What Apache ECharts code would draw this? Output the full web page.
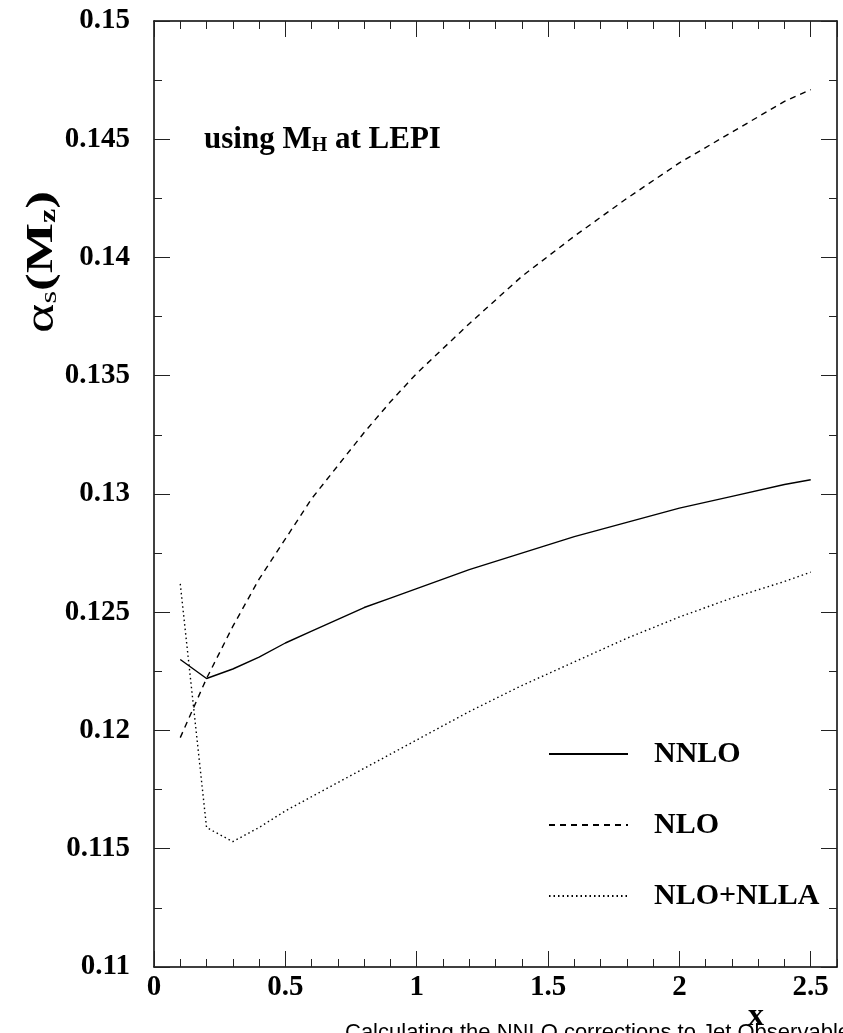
<!DOCTYPE html>
<html lang="en">
<head>
    <meta charset="UTF-8">
    <title>alpha_s vs x</title>
    <script src="https://cdn.jsdelivr.net/npm/echarts@6/dist/echarts.min.js"></script>
    <style>
        html, body { margin: 0; padding: 0; background: #fff; }
    </style>
</head>
<body>
<div id="main" style="width: 843px;height:1033px;"></div>

<script type="text/javascript">
    // scale values x
    var xs    = [0.1, 0.2, 0.3, 0.4, 0.5, 0.6, 0.7, 0.8, 0.9, 1.0, 1.2, 1.4, 1.6, 1.8, 2.0, 2.2, 2.4, 2.5];
    var nnlo  = [0.1230, 0.1222, 0.1226, 0.1231, 0.1237, 0.1242, 0.1247, 0.1252, 0.1256, 0.1260, 0.1268, 0.1275, 0.1282, 0.1288, 0.1294, 0.1299, 0.1304, 0.1306];
    var nlo   = [0.1197, 0.1222, 0.1244, 0.1264, 0.1281, 0.1298, 0.1312, 0.1326, 0.1339, 0.1351, 0.1372, 0.1392, 0.1409, 0.1425, 0.1440, 0.1453, 0.1466, 0.1471];
    var nlla  = [0.1262, 0.1159, 0.1153, 0.1159, 0.1166, 0.1172, 0.1178, 0.1184, 0.1190, 0.1196, 0.1208, 0.1219, 0.1229, 0.1239, 0.1248, 0.1256, 0.1263, 0.1267];
    var names = ['NNLO', 'NLO', 'NLO+NLLA'];

    var serif = '"Liberation Serif", "DejaVu Serif", serif';

    function pairs(v) {
        return xs.map(function (x, i) { return [x, v[i]]; });
    }

    var myChart = echarts.init(document.getElementById('main'));

    var lbl = { fontFamily: serif, fontWeight: 'bold', fontSize: 29, color: '#000' };
    var tickStyle = { color: '#222', width: 1 };

    // x axes: 0 = labels + long ticks, 1 = short ticks, 2/3 same on top
    var xAxes = [
        { position: 'bottom', interval: 0.5, tick: 16, label: true, line: true },
        { position: 'bottom', interval: 0.1, tick: 8, label: false, line: false },
        { position: 'top', interval: 0.5, tick: 16, label: false, line: true },
        { position: 'top', interval: 0.1, tick: 8, label: false, line: false }
    ].map(function (a) {
        return {
            type: 'value', min: 0, max: 2.6, interval: a.interval, position: a.position,
            splitLine: { show: false },
            axisLine: { show: a.line, onZero: false, lineStyle: { color: '#000', width: 1.5 } },
            axisTick: { show: true, inside: true, length: a.tick, lineStyle: tickStyle },
            axisLabel: Object.assign({ show: a.label, margin: 6, showMaxLabel: false }, lbl)
        };
    });

    var yAxes = ['left', 'right'].map(function (p) {
        return {
            type: 'value', min: 0.11, max: 0.15, interval: 0.005, position: p,
            splitLine: { show: false },
            axisLine: { show: true, onZero: false, lineStyle: { color: '#000', width: 1.5 } },
            axisTick: { show: true, inside: true, length: 16, lineStyle: tickStyle },
            minorTick: { show: true, splitNumber: 2, length: 8, lineStyle: tickStyle },
            axisLabel: Object.assign({ show: p === 'left', margin: 24 }, lbl)
        };
    });

    var dash = ['solid', [6, 5], [1.5, 3]];
    var data = [nnlo, nlo, nlla];

    var legendTops = [739, 810, 881];

    myChart.setOption({
        animation: false,
        grid: { left: 154, right: 6, top: 21, bottom: 66, containLabel: false },
        xAxis: xAxes,
        yAxis: yAxes,
        legend: names.map(function (n, i) {
            return {
                data: [n], left: 548, top: legendTops[i], padding: 0,
                itemWidth: 79, itemHeight: 12, selectedMode: false,
                itemStyle: { opacity: 0 },
                textStyle: { fontFamily: serif, fontWeight: 'bold', fontSize: 30, color: '#000', padding: [0, 0, 0, 21] }
            };
        }),
        series: names.map(function (n, i) {
            return {
                name: n, type: 'line', symbol: 'none', xAxisIndex: 0, yAxisIndex: 0,
                itemStyle: { color: '#000' },
                lineStyle: { color: '#000', width: 1.4, type: dash[i] },
                data: pairs(data[i])
            };
        }),
        graphic: [
            {
                // y title, stretched along the text like the original
                type: 'text', x: 42, y: 262, rotation: Math.PI / 2, scaleX: 1.4,
                style: {
                    text: '{a|α}{s|s}{b|(M}{z|z}{b|)}',
                    align: 'center', verticalAlign: 'middle',
                    rich: {
                        a: { fontFamily: serif, fontSize: 40, lineHeight: 38, color: '#000' },
                        b: { fontFamily: serif, fontSize: 38, fontWeight: 'bold', lineHeight: 38, color: '#000' },
                        s: { fontFamily: serif, fontSize: 23, lineHeight: 10, verticalAlign: 'bottom', color: '#000' },
                        z: { fontFamily: serif, fontSize: 23, fontWeight: 'bold', lineHeight: 10, verticalAlign: 'bottom', color: '#000' }
                    }
                }
            },
            {
                type: 'text', x: 204, y: 140,
                style: {
                    text: '{b|using M}{s|H}{b| at LEPI}',
                    align: 'left', verticalAlign: 'middle',
                    rich: {
                        b: { fontFamily: serif, fontSize: 31, fontWeight: 'bold', lineHeight: 32, color: '#000' },
                        s: { fontFamily: serif, fontSize: 20, fontWeight: 'bold', lineHeight: 6, verticalAlign: 'bottom', color: '#000' }
                    }
                }
            },
            {
                type: 'text', x: 756, y: 1017,
                style: {
                    text: 'x', align: 'center', verticalAlign: 'middle',
                    fontFamily: serif, fontWeight: 'bold', fontSize: 32, fill: '#000'
                }
            },
            {
                type: 'text', x: 345, y: 1022,
                style: {
                    text: 'Calculating the NNLO corrections to Jet Observables',
                    align: 'left', verticalAlign: 'top',
                    fontFamily: '"Liberation Sans", Arial, sans-serif', fontSize: 22, fill: '#000'
                }
            }
        ]
    });
</script>

</body>
</html>
